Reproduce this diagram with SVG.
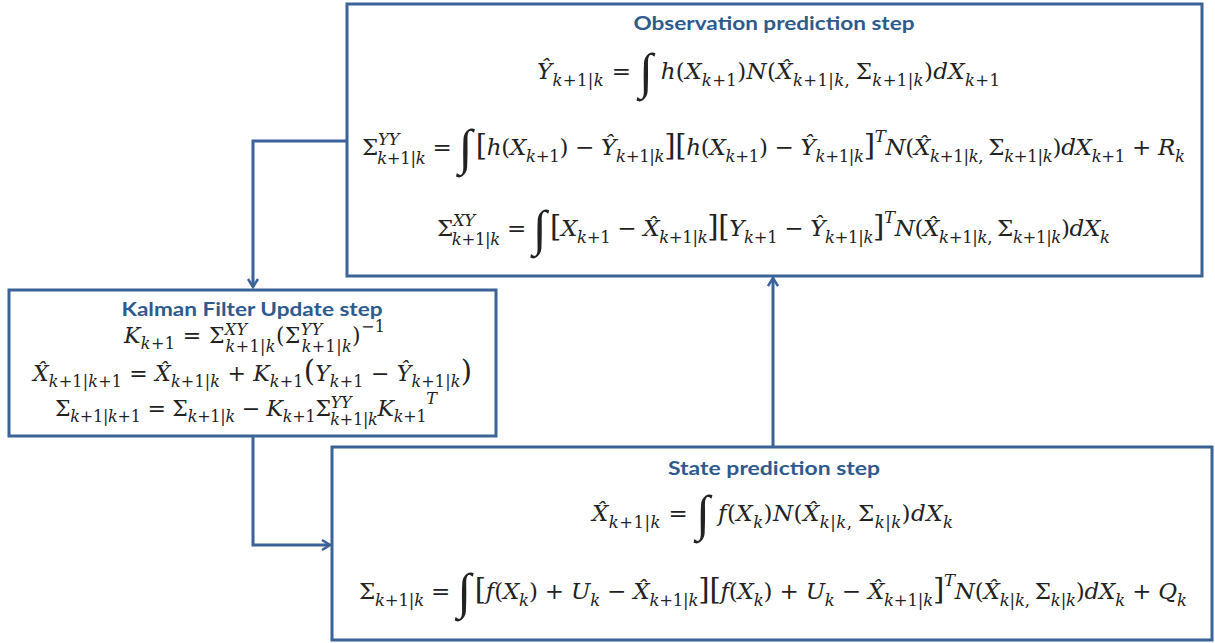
<svg xmlns="http://www.w3.org/2000/svg" width="1215" height="643" viewBox="0 0 1215 643">
<style>
.box{fill:#fff;stroke:#3B6397;stroke-width:3}
.ttl{font-family:Lato,"Open Sans","Liberation Sans",sans-serif;font-weight:bold;font-size:19px;fill:#2E5A8E;text-anchor:middle}
.eq{font-family:"DejaVu Serif","Liberation Serif",serif;font-size:23px;fill:#222}
.kq{font-size:22px}
.i{font-style:italic}
.s{font-size:16.5px}
.kq .s{font-size:16px}
.int{font-size:50px;font-style:italic;font-family:"Liberation Serif",serif}
.br{font-size:29px}
.con{fill:none;stroke:#3B6397;stroke-width:3}
</style>
<defs>
<marker id="arr" viewBox="0 0 12 12" refX="10" refY="6" markerWidth="12" markerHeight="12" markerUnits="userSpaceOnUse" orient="auto">
<path d="M2,1 L10,6 L2,11" fill="none" stroke="#3B6397" stroke-width="2.5"/>
</marker>
</defs>
<rect width="1215" height="643" fill="#fff"/>
<g id="connectors">
<path class="con" d="M347,141 H253 V287" marker-end="url(#arr)"/>
<path class="con" d="M253,437 V545 H330" marker-end="url(#arr)"/>
<path class="con" d="M773,447 V278" marker-end="url(#arr)"/>
</g>
<g id="observation">
<rect class="box" x="347" y="4" width="855" height="272"/>
<text class="ttl" x="774" y="30" textLength="281" lengthAdjust="spacingAndGlyphs">Observation prediction step</text>
<text class="eq" x="537" y="79" textLength="463"><tspan class="i">Ŷ</tspan><tspan class="s" dy="7"><tspan class="i">k</tspan>+1|<tspan class="i">k</tspan></tspan><tspan dy="-7"> = </tspan><tspan class="int" dy="9">∫</tspan><tspan class="i" dy="-9"> h</tspan>(<tspan class="i">X</tspan><tspan class="s" dy="7"><tspan class="i">k</tspan>+1</tspan><tspan dy="-7">)</tspan><tspan class="i">N</tspan>(<tspan class="i">X̂</tspan><tspan class="s" dy="7"><tspan class="i">k</tspan>+1|<tspan class="i">k</tspan>, </tspan><tspan dy="-7">Σ</tspan><tspan class="s" dy="7"><tspan class="i">k</tspan>+1|<tspan class="i">k</tspan></tspan><tspan dy="-7">)</tspan><tspan class="i">dX</tspan><tspan class="s" dy="7"><tspan class="i">k</tspan>+1</tspan></text>
<text class="eq" x="362" y="155" textLength="823">Σ<tspan class="s i" dy="-10">YY</tspan><tspan class="s" dx="-22" dy="19"><tspan class="i">k</tspan>+1|<tspan class="i">k</tspan></tspan><tspan dy="-9"> = </tspan><tspan class="int" dy="9">∫</tspan><tspan class="br" dx="4" dy="-9">[</tspan><tspan class="i">h</tspan>(<tspan class="i">X</tspan><tspan class="s" dy="7"><tspan class="i">k</tspan>+1</tspan><tspan dy="-7">) − </tspan><tspan class="i">Ŷ</tspan><tspan class="s" dy="7"><tspan class="i">k</tspan>+1|<tspan class="i">k</tspan></tspan><tspan class="br" dy="-7">][</tspan><tspan class="i">h</tspan>(<tspan class="i">X</tspan><tspan class="s" dy="7"><tspan class="i">k</tspan>+1</tspan><tspan dy="-7">) − </tspan><tspan class="i">Ŷ</tspan><tspan class="s" dy="7"><tspan class="i">k</tspan>+1|<tspan class="i">k</tspan></tspan><tspan class="br" dy="-7">]</tspan><tspan class="s i" dy="-13">T</tspan><tspan class="i" dy="13">N</tspan>(<tspan class="i">X̂</tspan><tspan class="s" dy="7"><tspan class="i">k</tspan>+1|<tspan class="i">k</tspan>, </tspan><tspan dy="-7">Σ</tspan><tspan class="s" dy="7"><tspan class="i">k</tspan>+1|<tspan class="i">k</tspan></tspan><tspan dy="-7">)</tspan><tspan class="i">dX</tspan><tspan class="s" dy="7"><tspan class="i">k</tspan>+1</tspan><tspan dy="-7"> + </tspan><tspan class="i">R</tspan><tspan class="s i" dy="7">k</tspan></text>
<text class="eq" x="437" y="236" textLength="673">Σ<tspan class="s i" dy="-10">XY</tspan><tspan class="s" dx="-23" dy="19"><tspan class="i">k</tspan>+1|<tspan class="i">k</tspan></tspan><tspan dy="-9"> = </tspan><tspan class="int" dy="9">∫</tspan><tspan class="br" dx="4" dy="-9">[</tspan><tspan class="i">X</tspan><tspan class="s" dy="7"><tspan class="i">k</tspan>+1</tspan><tspan dy="-7"> − </tspan><tspan class="i">X̂</tspan><tspan class="s" dy="7"><tspan class="i">k</tspan>+1|<tspan class="i">k</tspan></tspan><tspan class="br" dy="-7">][</tspan><tspan class="i">Y</tspan><tspan class="s" dy="7"><tspan class="i">k</tspan>+1</tspan><tspan dy="-7"> − </tspan><tspan class="i">Ŷ</tspan><tspan class="s" dy="7"><tspan class="i">k</tspan>+1|<tspan class="i">k</tspan></tspan><tspan class="br" dy="-7">]</tspan><tspan class="s i" dy="-13">T</tspan><tspan class="i" dy="13">N</tspan>(<tspan class="i">X̂</tspan><tspan class="s" dy="7"><tspan class="i">k</tspan>+1|<tspan class="i">k</tspan>, </tspan><tspan dy="-7">Σ</tspan><tspan class="s" dy="7"><tspan class="i">k</tspan>+1|<tspan class="i">k</tspan></tspan><tspan dy="-7">)</tspan><tspan class="i">dX</tspan><tspan class="s i" dy="7">k</tspan></text>
</g>
<g id="kalman">
<rect class="box" x="9" y="290" width="487" height="146"/>
<text class="ttl" x="252" y="316" textLength="261" lengthAdjust="spacingAndGlyphs">Kalman Filter Update step</text>
<text class="eq kq" x="124" y="343" textLength="261"><tspan class="i">K</tspan><tspan class="s" dy="6"><tspan class="i">k</tspan>+1</tspan><tspan dy="-6"> = Σ</tspan><tspan class="s i" dy="-8">XY</tspan><tspan class="s" dx="-22" dy="17"><tspan class="i">k</tspan>+1|<tspan class="i">k</tspan></tspan><tspan dy="-9">(Σ</tspan><tspan class="s i" dy="-8">YY</tspan><tspan class="s" dx="-21" dy="17"><tspan class="i">k</tspan>+1|<tspan class="i">k</tspan></tspan><tspan dy="-9">)</tspan><tspan class="s" dy="-11">−1</tspan></text>
<text class="eq kq" x="33" y="381" textLength="439"><tspan class="i">X̂</tspan><tspan class="s" dy="6"><tspan class="i">k</tspan>+1|<tspan class="i">k</tspan>+1</tspan><tspan dy="-6"> =  </tspan><tspan class="i">X̂</tspan><tspan class="s" dy="6"><tspan class="i">k</tspan>+1|<tspan class="i">k</tspan></tspan><tspan dy="-6"> + </tspan><tspan class="i">K</tspan><tspan class="s" dy="6"><tspan class="i">k</tspan>+1</tspan><tspan class="br" dy="-6">(</tspan><tspan class="i">Y</tspan><tspan class="s" dy="6"><tspan class="i">k</tspan>+1</tspan><tspan dy="-6"> − </tspan><tspan class="i">Ŷ</tspan><tspan class="s" dy="6"><tspan class="i">k</tspan>+1|<tspan class="i">k</tspan></tspan><tspan class="br" dy="-6">)</tspan></text>
<text class="eq kq" x="55" y="416" textLength="382">Σ<tspan class="s" dy="6"><tspan class="i">k</tspan>+1|<tspan class="i">k</tspan>+1</tspan><tspan dy="-6"> = Σ</tspan><tspan class="s" dy="6"><tspan class="i">k</tspan>+1|<tspan class="i">k</tspan></tspan><tspan dy="-6"> − </tspan><tspan class="i">K</tspan><tspan class="s" dy="6"><tspan class="i">k</tspan>+1</tspan><tspan dy="-6">Σ</tspan><tspan class="s i" dy="-8">YY</tspan><tspan class="s" dx="-21" dy="17"><tspan class="i">k</tspan>+1|<tspan class="i">k</tspan></tspan><tspan class="i" dy="-9">K</tspan><tspan class="s" dy="6"><tspan class="i">k</tspan>+1</tspan><tspan class="s i" dy="-18">T</tspan></text>
</g>
<g id="state">
<rect class="box" x="332" y="447" width="880" height="193"/>
<text class="ttl" x="774" y="475" textLength="212" lengthAdjust="spacingAndGlyphs">State prediction step</text>
<text class="eq" x="592" y="521" textLength="361"><tspan class="i">X̂</tspan><tspan class="s" dy="7"><tspan class="i">k</tspan>+1|<tspan class="i">k</tspan></tspan><tspan dy="-7"> = </tspan><tspan class="int" dy="9">∫</tspan><tspan class="i" dy="-9"> f</tspan>(<tspan class="i">X</tspan><tspan class="s i" dy="7">k</tspan><tspan dy="-7">)</tspan><tspan class="i">N</tspan>(<tspan class="i">X̂</tspan><tspan class="s" dy="7"><tspan class="i">k</tspan>|<tspan class="i">k</tspan>, </tspan><tspan dy="-7">Σ</tspan><tspan class="s" dy="7"><tspan class="i">k</tspan>|<tspan class="i">k</tspan></tspan><tspan dy="-7">)</tspan><tspan class="i">dX</tspan><tspan class="s i" dy="7">k</tspan></text>
<text class="eq" x="359" y="599" textLength="828">Σ<tspan class="s" dy="7"><tspan class="i">k</tspan>+1|<tspan class="i">k</tspan></tspan><tspan dy="-7"> = </tspan><tspan class="int" dy="9">∫</tspan><tspan class="br" dx="4" dy="-9">[</tspan><tspan class="i">f</tspan>(<tspan class="i">X</tspan><tspan class="s i" dy="7">k</tspan><tspan dy="-7">) + </tspan><tspan class="i">U</tspan><tspan class="s i" dy="7">k</tspan><tspan dy="-7"> − </tspan><tspan class="i">X̂</tspan><tspan class="s" dy="7"><tspan class="i">k</tspan>+1|<tspan class="i">k</tspan></tspan><tspan class="br" dy="-7">][</tspan><tspan class="i">f</tspan>(<tspan class="i">X</tspan><tspan class="s i" dy="7">k</tspan><tspan dy="-7">) + </tspan><tspan class="i">U</tspan><tspan class="s i" dy="7">k</tspan><tspan dy="-7"> − </tspan><tspan class="i">X̂</tspan><tspan class="s" dy="7"><tspan class="i">k</tspan>+1|<tspan class="i">k</tspan></tspan><tspan class="br" dy="-7">]</tspan><tspan class="s i" dy="-13">T</tspan><tspan class="i" dy="13">N</tspan>(<tspan class="i">X̂</tspan><tspan class="s" dy="7"><tspan class="i">k</tspan>|<tspan class="i">k</tspan>, </tspan><tspan dy="-7">Σ</tspan><tspan class="s" dy="7"><tspan class="i">k</tspan>|<tspan class="i">k</tspan></tspan><tspan dy="-7">)</tspan><tspan class="i">dX</tspan><tspan class="s i" dy="7">k</tspan><tspan dy="-7"> + </tspan><tspan class="i">Q</tspan><tspan class="s i" dy="7">k</tspan></text>
</g>
</svg>
